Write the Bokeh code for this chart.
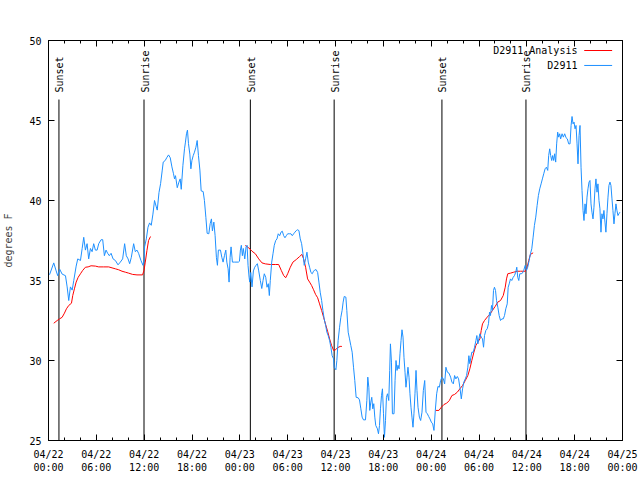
import math
from bokeh.plotting import figure
from bokeh.models import Range1d, LinearAxis, FixedTicker, Label, CustomJSTickFormatter
from bokeh.embed import file_html
from bokeh.resources import INLINE
from bokeh.core.properties import value

# ---------------- data ----------------
title_text = "Dew Point for D2911 on 2024-Apr-22 (time in UTC)"
y_label = "degrees F"
series_names = ["D2911 Analysis", "D2911"]

# hours since 2024-04-22 00:00 UTC
tick_hours = [0, 6, 12, 18, 24, 30, 36, 42, 48, 54, 60, 66, 72]
tick_labels = ["04/22\n00:00", "04/22\n06:00", "04/22\n12:00", "04/22\n18:00",
               "04/23\n00:00", "04/23\n06:00", "04/23\n12:00", "04/23\n18:00",
               "04/24\n00:00", "04/24\n06:00", "04/24\n12:00", "04/24\n18:00",
               "04/25\n00:00"]
y_ticks = [25, 30, 35, 40, 45, 50]

sun_hours = [1.31, 11.98, 25.32, 35.83, 49.35, 59.89]
sun_labels = ["Sunset", "Sunrise", "Sunset", "Sunrise", "Sunset", "Sunrise"]

obs_hours = [
    0.13, 0.66, 0.96, 1.16, 1.41, 1.71, 2.13, 2.34, 2.54, 2.75, 2.97, 3.17, 3.47, 3.67,
    4.01, 4.22, 4.42, 4.63, 4.84, 5.04, 5.26, 5.47, 5.67, 5.88, 6.10, 6.30, 6.60, 6.80,
    7.01, 7.22, 7.42, 7.63, 7.85, 8.10, 8.39, 8.72, 9.01, 9.30, 9.55, 9.76, 9.98, 10.18,
    10.39, 10.68, 10.89, 11.10, 11.30, 11.60, 11.85, 11.98,
    12.05, 12.27, 12.48, 12.68, 12.89, 13.10, 13.30, 13.52, 13.64, 13.86, 14.06, 14.27,
    14.39, 14.64, 14.86, 15.06, 15.27, 15.48, 15.68, 15.81, 15.93, 16.15, 16.36, 16.52,
    16.65, 16.86, 17.06, 17.18, 17.31, 17.43, 17.56, 17.73, 17.86, 17.99, 18.15, 18.31,
    18.49, 18.65, 18.81, 18.99, 19.15, 19.40, 19.56, 19.74, 19.90, 20.11, 20.28, 20.44,
    20.56, 20.74, 20.90, 21.06, 21.19, 21.31, 21.57, 21.74, 21.90, 22.07, 22.24, 22.37,
    22.53, 22.65, 22.78, 22.90, 23.07, 23.32, 23.82, 23.95,
    24.07, 24.19, 24.32, 24.44, 24.62, 24.78, 24.91, 25.03, 25.16, 25.24, 25.37, 25.53,
    25.70, 25.87, 26.03, 26.20, 26.37, 26.57, 26.75, 26.91, 27.07, 27.25, 27.41, 27.57,
    27.70, 27.82, 28.00, 28.16, 28.32, 28.50, 28.66, 28.82, 29.00, 29.16, 29.33, 29.50,
    29.66, 29.83, 30.00, 30.20, 30.41, 30.58, 30.75, 30.91, 31.08, 31.25, 31.41, 31.58,
    31.75, 31.92, 32.08, 32.25, 32.42, 32.58, 32.75, 32.92, 33.08, 33.25, 33.42, 33.58,
    33.76, 33.92, 34.08, 34.26, 34.42, 34.58, 34.76, 34.92, 35.08, 35.26, 35.42, 35.58,
    35.76, 35.83, 36.05, 36.17, 36.33, 36.51, 36.67, 36.83, 36.96, 37.09, 37.30, 37.42,
    37.59, 37.76, 37.92, 38.09, 38.26, 38.42, 38.59, 38.84, 39.01, 39.18, 39.34, 39.51,
    39.76, 39.93, 40.05, 40.18, 40.30, 40.43, 40.55, 40.68, 40.80, 40.93, 41.05, 41.26,
    41.39, 41.52, 41.64, 41.77, 41.89, 42.02, 42.14, 42.27, 42.39, 42.52, 42.68, 42.80,
    42.89, 43.02, 43.14, 43.34, 43.47, 43.59, 43.72, 43.84, 43.97, 44.09, 44.22, 44.34,
    44.47, 44.59, 44.72, 44.84, 44.97, 45.09, 45.22, 45.34, 45.47, 45.59, 45.72, 45.84,
    45.97, 46.10, 46.22, 46.35, 46.52, 46.68, 46.85, 47.02, 47.19, 47.35, 47.52, 47.69,
    47.85, 48.02, 48.19, 48.35, 48.52, 48.69, 48.85, 49.02, 49.19, 49.35, 49.53, 49.69,
    49.85, 50.03, 50.23, 50.44, 50.60, 50.78, 50.94, 51.10, 51.28, 51.44, 51.60, 51.78,
    51.94, 52.10, 52.28, 52.44, 52.60, 52.73, 52.85, 52.98, 53.10, 53.28, 53.44, 53.61,
    53.73, 53.86, 53.98, 54.11, 54.28, 54.44, 54.57, 54.69, 54.86, 55.03, 55.19, 55.32,
    55.44, 55.57, 55.69, 55.82, 55.94, 56.07, 56.20, 56.36, 56.53, 56.70, 56.86, 57.04,
    57.20, 57.36, 57.54, 57.66, 57.79, 57.95, 58.11, 58.29, 58.45, 58.61, 58.74, 58.86,
    58.99, 59.11, 59.29, 59.45, 59.61, 59.79, 59.95, 60.11, 60.29, 60.45, 60.62, 60.79,
    60.95, 61.12, 61.29, 61.45, 61.62, 61.79, 61.95, 62.12, 62.29, 62.45, 62.62, 62.74,
    62.87, 62.99, 63.12, 63.24, 63.37, 63.49, 63.62, 63.74, 63.87, 63.99, 64.12, 64.24,
    64.42, 64.58, 64.75, 64.92, 65.08, 65.25, 65.42, 65.55, 65.67, 65.80, 65.92, 66.05,
    66.17, 66.30, 66.42, 66.55, 66.67, 66.80, 66.92, 67.05, 67.17, 67.30, 67.42, 67.55,
    67.67, 67.80, 67.92, 68.05, 68.17, 68.30, 68.42, 68.55, 68.67, 68.80, 68.92, 69.05,
    69.17, 69.30, 69.42, 69.55, 69.67, 69.80, 69.92, 70.05, 70.18, 70.30, 70.43, 70.55,
    70.68, 70.80, 70.93, 71.05, 71.18, 71.30, 71.43, 71.55, 71.68,
]
obs_dewpt = [
    35.36, 36.10, 35.60, 35.30, 35.70, 35.40, 35.30, 34.60, 33.75, 34.60, 34.40, 35.00, 35.90, 36.35,
    36.25, 37.00, 37.70, 36.90, 37.30, 36.35, 37.00, 36.80, 37.30, 36.90, 36.90, 37.30, 37.55, 37.55,
    36.55, 36.90, 36.70, 36.55, 36.70, 36.35, 36.25, 35.98, 36.15, 36.35, 37.30, 36.55, 36.35, 36.05,
    36.45, 37.30, 36.80, 36.90, 36.70, 36.25, 35.95, 36.25,
    37.10, 37.60, 38.33, 38.60, 38.45, 39.15, 40.00, 39.60, 39.40, 40.50, 41.05, 41.90,
    42.40, 42.50, 42.70, 42.85, 42.67, 42.10, 41.67, 41.35, 41.55, 40.80, 41.15, 41.35,
    40.70, 42.20, 43.23, 43.65, 44.17, 44.40, 43.55, 42.90, 41.98, 42.50, 42.80, 43.02,
    43.33, 43.75, 42.80, 41.90, 40.60, 40.56, 40.00, 38.95, 37.95, 37.92, 38.55, 38.85,
    38.10, 38.65, 37.80, 36.45, 35.95, 36.90, 36.90, 36.45, 36.15, 36.55, 36.90, 36.15,
    35.73, 34.90, 36.45, 37.10, 36.15, 36.15, 36.15, 36.20,
    36.90, 37.20, 36.55, 37.00, 36.35, 37.10, 37.20, 35.95, 35.20, 34.90, 35.50, 34.60,
    35.60, 35.83, 35.95, 36.05, 35.60, 35.00, 34.50, 35.00, 35.42, 35.20, 34.58, 34.80,
    34.06, 35.00, 36.15, 36.67, 37.20, 37.50, 37.60, 37.92, 37.80, 38.02, 38.08, 37.80,
    37.67, 37.80, 37.92, 37.92, 37.92, 37.80, 37.92, 38.02, 38.12, 38.17, 38.12, 37.60,
    37.30, 36.67, 35.95, 36.35, 36.77, 36.15, 35.83, 35.50, 35.42, 35.58, 35.67, 35.67,
    35.50, 34.90, 34.27, 33.75, 33.13, 32.60, 32.20, 31.77, 31.56, 31.25, 30.83, 30.30,
    30.10, 29.58, 29.42, 30.00, 31.25, 32.08, 32.70, 33.13, 33.65, 34.00, 33.96, 33.13,
    31.77, 31.35, 30.94, 30.52, 29.58, 28.75, 27.70, 27.67, 27.54, 26.98, 26.46, 26.29,
    26.29, 27.50, 28.96, 28.33, 26.88, 27.40, 27.70, 26.98, 27.30, 26.46, 25.94, 25.73,
    25.42, 25.94, 26.98, 27.80, 28.23, 26.67, 25.20, 26.25, 27.70, 27.92, 27.50, 29.38,
    31.04, 29.90, 26.67, 26.67, 28.75, 30.00, 29.38, 29.70, 29.48, 30.42, 31.25, 31.92,
    31.46, 30.20, 29.27, 28.33, 28.96, 29.58, 28.96, 27.92, 27.08, 26.46, 25.83, 26.67,
    27.92, 29.38, 28.13, 27.08, 26.46, 26.25, 26.77, 28.13, 28.75, 26.77, 26.67, 26.50,
    26.35, 26.15, 26.04, 25.63, 26.88, 27.92, 28.38, 28.33, 28.75, 28.96, 28.85, 28.54,
    29.58, 29.27, 29.21, 28.96, 28.65, 28.54, 29.06, 28.85, 29.00, 28.85, 28.33, 27.60,
    28.23, 28.65, 28.85, 29.06, 29.58, 30.30, 29.80, 30.20, 30.52, 30.52, 30.83, 31.25,
    31.56, 31.04, 31.35, 31.67, 31.46, 31.35, 30.83, 31.56, 31.88, 31.98, 32.30, 33.02,
    32.81, 33.44, 33.13, 34.38, 34.58, 34.38, 33.75, 33.33, 32.81, 32.50, 32.60, 32.60,
    32.81, 33.23, 33.54, 34.58, 34.79, 35.10, 35.00, 35.20, 35.31, 35.52, 35.83, 35.20,
    35.00, 35.42, 35.42, 35.46, 35.63, 35.94, 35.63, 35.83, 36.25, 36.67, 36.98, 37.71,
    38.44, 38.96, 39.69, 40.31, 40.73, 41.04, 41.35, 41.67, 41.98, 42.08, 41.88, 42.81,
    43.23, 42.81, 42.50, 42.81, 42.50, 42.92, 42.40, 43.54, 44.27, 43.96, 44.17, 43.85,
    44.17, 43.96, 44.17, 43.92, 43.85, 43.54, 43.54, 44.69, 45.25, 44.79, 44.90, 44.48,
    44.69, 43.54, 42.29, 44.06, 44.69, 42.08, 40.63, 39.38, 38.75, 39.79, 39.17, 40.21,
    40.73, 41.15, 41.25, 39.79, 39.27, 38.85, 39.58, 40.73, 41.35, 40.52, 41.04, 40.00,
    39.48, 38.02, 39.17, 38.85, 39.38, 38.65, 38.02, 39.17, 40.21, 40.94, 41.15, 40.94,
    40.10, 39.38, 38.54, 39.17, 39.79, 39.38, 39.06, 39.17, 39.27,
]

nan = float("nan")
ana_hours = [
    0.66, 1.09, 1.38, 1.71, 2.00, 2.25, 2.54, 2.88, 3.04, 3.25, 3.47, 3.72, 4.01, 4.29,
    4.63, 4.97, 5.34, 5.88, 6.30, 6.92, 7.55, 7.97, 8.39, 8.80, 9.22, 9.64, 10.05, 10.55,
    11.10, 11.80, 11.98, 12.14, 12.35, 12.55, 12.80,
    nan,
    24.69, 25.12, 25.53, 25.95, 26.37, 26.78, 27.20, 27.82, 28.45, 28.87, 29.20, 29.50,
    29.75, 30.00, 30.33, 30.66, 31.08, 31.50, 31.79, 32.00, 32.25, 32.50, 32.75, 33.00,
    33.25, 33.50, 33.76, 34.00, 34.26, 34.51, 34.76, 35.01, 35.26, 35.51, 35.76, 36.01,
    36.26, 36.58, 36.80,
    nan,
    48.56, 48.97, 49.28, 49.60, 49.94, 50.28, 50.60, 50.94, 51.28, 51.60, 51.94, 52.28,
    52.60, 52.85, 53.10, 53.36, 53.61, 53.86, 54.11, 54.28, 54.44, 54.69, 55.03, 55.36,
    55.69, 56.03, 56.36, 56.70, 57.04, 57.29, 57.45, 57.61, 57.95, 58.36, 58.79, 59.20,
    59.83, 60.04, 60.24, 60.45, 60.79,
]
ana_dewpt = [
    32.33, 32.50, 32.60, 32.70, 32.96, 33.23, 33.44, 33.58, 34.06, 34.48, 34.90, 35.20, 35.42, 35.63,
    35.83, 35.85, 35.92, 35.90, 35.85, 35.85, 35.85, 35.79, 35.73, 35.67, 35.58, 35.52, 35.46, 35.38,
    35.35, 35.35, 35.63, 36.15, 36.88, 37.50, 37.75,
    nan,
    37.19, 37.04, 36.83, 36.67, 36.35, 36.10, 36.04, 36.00, 36.00, 36.00, 35.63, 35.31,
    35.17, 35.42, 35.83, 36.15, 36.31, 36.50, 36.63, 36.35, 35.83, 35.10, 34.90, 34.69,
    34.42, 34.13, 33.92, 33.54, 33.13, 32.70, 32.25, 31.83, 31.35, 30.94, 30.63, 30.67,
    30.80, 30.88, 30.88,
    nan,
    26.88, 26.88, 27.08, 27.25, 27.33, 27.50, 27.81, 27.88, 28.02, 28.23, 28.44, 28.75,
    29.06, 29.48, 30.00, 30.52, 30.94, 31.15, 31.35, 31.88, 32.29, 32.50, 32.71, 32.88,
    33.13, 33.38, 33.65, 33.75, 34.06, 34.58, 35.10, 35.42, 35.46, 35.52, 35.58, 35.58,
    35.58, 35.83, 36.25, 36.63, 36.73,
]

# ---------------- style ----------------
FONT = "DejaVu Sans Mono"
FS = "10px"
BLUE = "#1e90ff"
RED = "#ff0000"

x_min, x_max = 0, 72
y_min, y_max = 25, 50

p = figure(width=640, height=480, x_range=Range1d(x_min, x_max), y_range=Range1d(y_min, y_max),
           output_backend="svg", toolbar_location=None,
           min_border_left=47, min_border_right=18, min_border_top=40, min_border_bottom=40)
p.background_fill_color = "white"
p.border_fill_color = "white"
p.xgrid.visible = False
p.ygrid.visible = False
p.outline_line_color = "black"
p.outline_line_alpha = 1.0
p.outline_line_width = 1

minor_hours = [h for h in range(x_min, x_max + 1, 2) if h % 6 != 0]

def style_axis(ax):
    ax.axis_line_color = "black"
    ax.major_tick_line_color = "black"
    ax.minor_tick_line_color = "black"
    ax.major_tick_in = 6
    ax.major_tick_out = 0
    ax.minor_tick_in = 3
    ax.minor_tick_out = 0
    ax.major_label_text_font = FONT
    ax.major_label_text_font_size = FS
    ax.major_label_text_color = "black"

xa = p.xaxis[0]
xa.ticker = FixedTicker(ticks=tick_hours, minor_ticks=minor_hours)
xa.major_label_overrides = {t: lab for t, lab in zip(tick_hours, tick_labels)}
style_axis(xa)
xa.major_label_standoff = 8

ya = p.yaxis[0]
ya.ticker = FixedTicker(ticks=y_ticks)
style_axis(ya)
ya.minor_tick_line_color = None
ya.major_label_standoff = 7
ya.axis_label = y_label
ya.axis_label_text_font = FONT
ya.axis_label_text_font_size = FS
ya.axis_label_text_font_style = "normal"
ya.axis_label_standoff = 12

blank = CustomJSTickFormatter(code="return ''")
top = LinearAxis(ticker=FixedTicker(ticks=tick_hours, minor_ticks=minor_hours), formatter=blank)
style_axis(top)
top.major_label_standoff = 0
top.major_label_text_font_size = "1px"
p.add_layout(top, "above")

right = LinearAxis(ticker=FixedTicker(ticks=y_ticks), formatter=blank)
style_axis(right)
right.minor_tick_line_color = None
right.major_label_standoff = 0
right.major_label_text_font_size = "1px"
p.add_layout(right, "right")

# sunrise / sunset markers
p.segment(x0=sun_hours, y0=[y_min] * len(sun_hours), x1=sun_hours,
          y1=[46.31] * len(sun_hours), line_color="black", line_width=1)
p.text(x=sun_hours, y=[46.75] * len(sun_hours), text=sun_labels, angle=math.pi / 2,
       text_align="left", text_baseline="middle", x_offset=1,
       text_font=value(FONT), text_font_size=FS, text_color="black")

# data
p.line(ana_hours, ana_dewpt, line_color=RED, line_width=1)
p.line(obs_hours, obs_dewpt, line_color=BLUE, line_width=1)

# legend (gnuplot style: text then sample)
leg_y = [49.375, 48.44]
leg_colors = [RED, BLUE]
for name, yy, col in zip(series_names, leg_y, leg_colors):
    p.add_layout(Label(x=66.35, y=yy, text=name, text_align="right", text_baseline="middle",
                       text_font=FONT, text_font_size=FS, text_color="black"))
p.segment(x0=[67.2, 67.2], y0=leg_y, x1=[70.7, 70.7], y1=leg_y, line_color=leg_colors, line_width=1)

# title
p.add_layout(Label(x=35.7, y=51.31, text=title_text, text_align="center", text_baseline="middle",
                   text_font=FONT, text_font_size=FS, text_color="black"))

open("out.html", "w").write(file_html(p, INLINE))
